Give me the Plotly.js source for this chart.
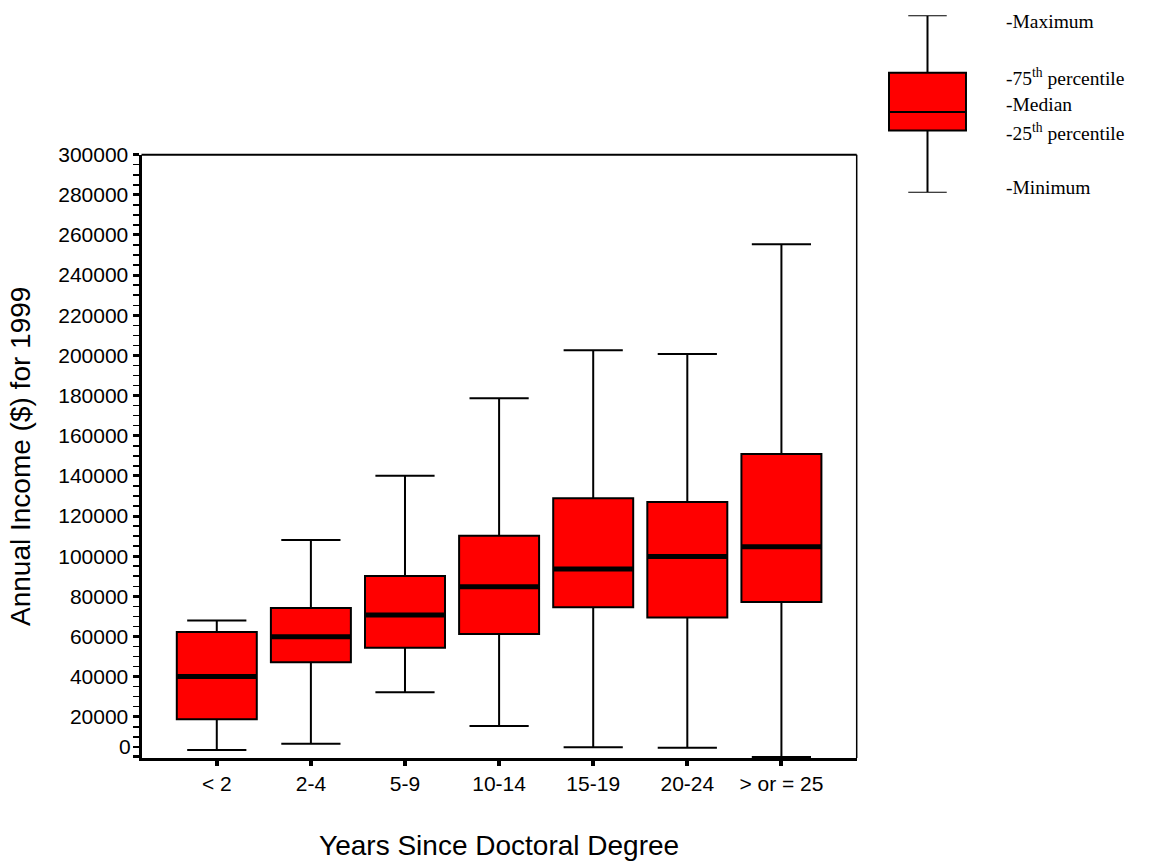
<!DOCTYPE html>
<html>
<head>
<meta charset="utf-8">
<script src="https://cdn.plot.ly/plotly-3.0.1.min.js"></script>
<style>html,body{margin:0;padding:0;background:#fff;}#chart{width:1162px;height:865px;}</style>
</head>
<body>
<div id="chart"></div>
<script>
// ---- data ----
const categories = ['< 2', '2-4', '5-9', '10-14', '15-19', '20-24', '> or = 25'];
const minimum = [3400, 6600, 32200, 15400, 4800, 4600, 0];
const q1      = [18700, 47100, 54400, 61200, 74500, 69400, 77200];
const median  = [40000, 59900, 70700, 84800, 93600, 99800, 104700];
const q3      = [62200, 74200, 90100, 110200, 128800, 127000, 150900];
const maximum = [68000, 108100, 140000, 178700, 202600, 200700, 255400];

const yTickVals = [0, 20000, 40000, 60000, 80000, 100000, 120000, 140000, 160000, 180000, 200000, 220000, 240000, 260000, 280000, 300000];
const yTickText = [' ', '20000', '40000', '60000', '80000', '100000', '120000', '140000', '160000', '180000', '200000', '220000', '240000', '260000', '280000', '300000'];

// key (schematic box) values, abstract units
const keyX = ['key'];
const keyMin = [0], keyQ1 = [35], keyMed = [45.5], keyQ3 = [67.6], keyMax = [100];
const keyLabels = ['-Maximum', '-75<sup>th</sup> percentile', '-Median', '-25<sup>th</sup> percentile', '-Minimum'];

const W = 1162, H = 865;
const sans = 'Liberation Sans, Arial, sans-serif';
const serif = 'Liberation Serif, Times New Roman, serif';

const traces = [
  {
    type: 'box', x: categories, q1: q1, median: median, q3: q3,
    lowerfence: minimum, upperfence: maximum,
    boxpoints: false, width: 0.85, whiskerwidth: 0.74,
    fillcolor: '#FF0000', line: {color: '#000000', width: 2},
    hoverinfo: 'skip', showlegend: false, xaxis: 'x', yaxis: 'y'
  },
  {
    type: 'scatter', mode: 'markers', x: categories, y: median,
    marker: {symbol: 'line-ew', size: 57, color: '#000', line: {color: '#000', width: 5}},
    hoverinfo: 'skip', showlegend: false, cliponaxis: false, xaxis: 'x', yaxis: 'y'
  },
  {
    type: 'box', x: keyX, q1: keyQ1, median: keyMed, q3: keyQ3,
    lowerfence: keyMin, upperfence: keyMax,
    boxpoints: false, width: 0.81, whiskerwidth: 0.5,
    fillcolor: '#FF0000', line: {color: '#000000', width: 2},
    hoverinfo: 'skip', showlegend: false, xaxis: 'x2', yaxis: 'y2'
  }
];

const keyTextY = [21.5, 77, 104.5, 132, 187];
const annotations = keyLabels.map((t, i) => ({
  text: t, xref: 'paper', yref: 'paper', x: 1004 / W, y: 1 - keyTextY[i] / H,
  xanchor: 'left', yanchor: 'middle', showarrow: false,
  font: {family: serif, size: 19.5, color: '#000'}
}));
annotations.push({
  text: '0', xref: 'paper', yref: 'y', x: 133 / W, y: 5000,
  xanchor: 'right', yanchor: 'middle', showarrow: false,
  font: {family: sans, size: 21, color: '#000'}
});

const layout = {
  width: W, height: H,
  margin: {l: 0, r: 0, t: 0, b: 0},
  paper_bgcolor: '#fff', plot_bgcolor: '#fff',
  font: {family: sans, color: '#000'},
  showlegend: false,
  xaxis: {
    domain: [141.5 / W, 856.7 / W],
    type: 'category', range: [-0.8, 6.8],
    showline: true, linewidth: 3, linecolor: '#000',
    ticks: 'outside', ticklen: 5, tickwidth: 4, tickcolor: '#000',
    showgrid: false, zeroline: false, fixedrange: true,
    tickfont: {family: sans, size: 21, color: '#000'},
    title: {text: 'Years Since Doctoral Degree', font: {family: sans, size: 28, color: '#000'}, standoff: 42}
  },
  yaxis: {
    domain: [(H - 757.9) / H, (H - 154.7) / H],
    range: [-500, 300000],
    tickmode: 'array', tickvals: yTickVals, ticktext: yTickText,
    showline: true, linewidth: 3, linecolor: '#000',
    ticks: 'outside', ticklen: 6, tickwidth: 3, tickcolor: '#000',
    minor: {tickmode: 'linear', tick0: 0, dtick: 5000, ticks: 'outside', ticklen: 6, tickwidth: 1.5, tickcolor: '#000', showgrid: false},
    showgrid: false, zeroline: false, fixedrange: true,
    tickfont: {family: sans, size: 21, color: '#000'},
    title: {text: 'Annual Income ($) for 1999', font: {family: sans, size: 28, color: '#000'}, standoff: 20}
  },
  xaxis2: {
    domain: [880 / W, 975 / W], anchor: 'y2', type: 'category', range: [-0.5, 0.5],
    visible: false, fixedrange: true
  },
  yaxis2: {
    domain: [(H - 192.7) / H, (H - 15.3) / H], anchor: 'x2', range: [0, 100],
    visible: false, fixedrange: true
  },
  shapes: [
    {type: 'line', xref: 'x domain', yref: 'y domain', x0: 0, x1: 1, y0: 1, y1: 1, line: {color: '#000', width: 2}},
    {type: 'line', xref: 'x domain', yref: 'y domain', x0: 1, x1: 1, y0: 0, y1: 1, line: {color: '#000', width: 1.5}}
  ],
  annotations: annotations
};

Plotly.newPlot('chart', traces, layout, {displayModeBar: false, staticPlot: true});
</script>
</body>
</html>
